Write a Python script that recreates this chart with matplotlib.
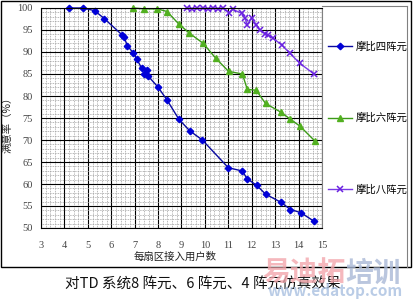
import matplotlib.pyplot as plt
from matplotlib.lines import Line2D
from matplotlib.patches import Rectangle
from matplotlib.ticker import MultipleLocator

plt.rcParams["font.family"] = ["Noto Sans CJK SC", "DejaVu Sans"]

W, H = 414, 300

# series
four_x = [4.21, 4.79, 5.29, 5.70, 6.46, 6.54, 6.69, 6.94, 7.08, 7.30, 7.51, 7.40,
          7.58, 8.00, 8.38, 8.89, 9.35, 9.89, 11.0, 11.6, 11.8, 12.21, 12.59,
          13.26, 13.65, 14.09, 14.67]
four_y = [100, 100, 99.4, 97.6, 93.9, 93.5, 91.4, 89.8, 88.5, 86.3, 85.9, 85.0,
          84.5, 82.0, 79.1, 74.7, 72.1, 70.0, 63.7, 62.95, 61.2, 59.7, 57.7,
          55.8, 54.2, 53.5, 51.5]

six_x = [6.94, 7.40, 7.97, 8.38, 8.88, 9.33, 9.92, 10.46, 11.01, 11.6, 11.81,
         12.19, 12.59, 13.25, 13.63, 14.07, 14.69]
six_y = [100, 99.8, 99.8, 99.2, 96.4, 94.3, 92.0, 88.6, 85.6, 85.0, 81.5,
         81.3, 78.3, 76.3, 74.8, 73.1, 69.8]

eight_x = [9.25, 9.43, 9.65, 9.93, 10.14, 10.36, 10.57, 10.78, 11.04, 11.18,
           11.57, 11.71, 11.81, 11.99, 12.2, 12.35, 12.56, 12.7, 12.92, 13.28,
           13.63, 14.06, 14.66]
eight_y = [100, 99.8, 99.9, 100, 99.8, 100, 99.8, 100, 98.9, 99.7, 98.8, 97.7,
           96.2, 97.7, 96.2, 95.0, 94.2, 93.9, 93.1, 91.6, 89.7, 87.4, 85.0]

labels = ["摩比四阵元", "摩比六阵元", "摩比八阵元"]
x_ticks = list(range(3, 16))
y_ticks = list(range(50, 101, 5))


def fx(px):
    return px / W


def fy(py):
    return 1 - py / H


fig = plt.figure(figsize=(W / 100, H / 100), dpi=100)
ax = fig.add_axes([fx(41), fy(228), (322 - 41) / W, (228 - 8) / H])

# dotted minor grid, solid black major grid
ax.xaxis.set_minor_locator(MultipleLocator(0.2))
ax.yaxis.set_minor_locator(MultipleLocator(1))
ax.grid(which="minor", color="#a0a0a0", linestyle=(0, (1, 1)), linewidth=0.6)
ax.grid(which="major", color="black", linestyle="-", linewidth=0.8)
ax.set_axisbelow(True)

l4, = ax.plot(four_x, four_y, color="#0a0aa0", lw=1.0, marker="D", ms=3.3,
              mfc="#0000d8", mec="#0000d8", clip_on=False)
l6, = ax.plot(six_x, six_y, color="#3c9a18", lw=1.0, marker="^", ms=4.2,
              mfc="#52b020", mec="#52b020", clip_on=False)
l8, = ax.plot(eight_x, eight_y, color="#7a3ae6", lw=1.0, marker="x", ms=3.8,
              mew=1.1, mec="#6a22e0", clip_on=False)

ax.set_xlim(3, 15)
ax.set_ylim(50, 100)
ax.set_xticks(x_ticks)
ax.set_yticks(y_ticks)
ax.tick_params(which="both", length=0, labelsize=7.5, labelcolor="#444444")
ax.tick_params(axis="y", pad=6)
ax.tick_params(axis="x", pad=9)
for lab in ax.get_xticklabels() + ax.get_yticklabels():
    lab.set_family(["Liberation Serif", "DejaVu Serif"])

for side in ["left", "bottom", "top"]:
    ax.spines[side].set_color("black")
    ax.spines[side].set_linewidth(0.8)
ax.spines["right"].set_color("#808080")

ax.set_xlabel("每扇区接入用户数", fontsize=7.5, color="#222222")
ax.xaxis.set_label_coords((175 - 41) / 281, -(257 - 228) / 220)
ax.xaxis.label.set_va("center")
ax.set_ylabel("满意率（%）", fontsize=7.5, color="#222222")
ax.yaxis.set_label_coords(-(41 - 8) / 281, (228 - 122) / 220)
ax.yaxis.label.set_va("center")

fig.legend([l4, l6, l8], labels, loc="upper left",
           bbox_to_anchor=(fx(323), fy(36)), frameon=False, fontsize=7.5,
           handlelength=2.3, handletextpad=0.3, labelspacing=5.9,
           borderpad=0, numpoints=1)

# outer frame and legend area border
fig.add_artist(Rectangle((fx(1), fy(267)), (411 - 1) / W, (267 - 0.5) / H,
                         fill=False, edgecolor="black", lw=1.0,
                         transform=fig.transFigure))
fig.add_artist(Line2D([fx(322), fx(407)], [fy(6), fy(6)], color="#808080",
                      lw=0.8, transform=fig.transFigure))
fig.add_artist(Line2D([fx(407), fx(407)], [fy(6), fy(267)], color="#808080",
                      lw=0.8, transform=fig.transFigure))

fig.text(fx(203), fy(284), "对TD 系统8 阵元、6 阵元、4 阵元仿真效果",
         ha="center", va="center", fontsize=10.5, color="#111111")

# watermark
fig.text(fx(262), fy(274), "易迪拓", ha="left", va="center", fontsize=20,
         fontweight="bold", color="#f3a7ad", alpha=0.8)
fig.text(fx(345), fy(274), "培训", ha="left", va="center", fontsize=20,
         fontweight="bold", color="#a9b8d6", alpha=0.8)
fig.text(fx(335), fy(291), "www.edatop.com", ha="center", va="center",
         fontsize=11, fontweight="bold", color="#a9c0e0", alpha=0.8)

fig.savefig("out.png", dpi=100)
